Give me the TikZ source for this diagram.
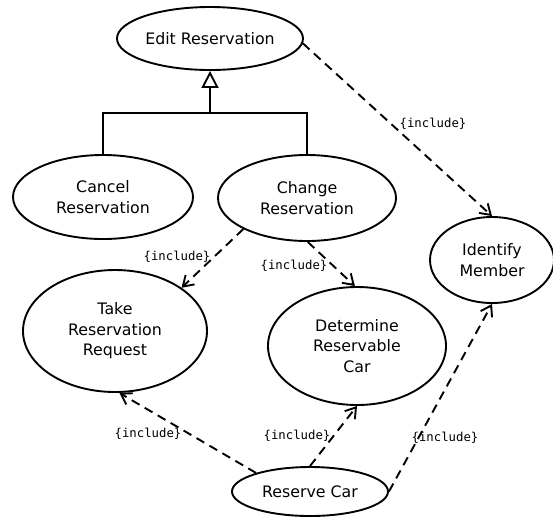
\documentclass[tikz,border=0pt]{standalone}
\usepackage{fontspec}
\setmainfont{DejaVu Sans}
\newfontfamily\monofnt{DejaVu Sans Mono}
\usetikzlibrary{shapes.geometric,arrows.meta}

\begin{document}
\begin{tikzpicture}[x=1pt,y=-1pt,
  usecase/.style={draw, ellipse, line width=1.9pt, inner sep=0pt, align=center,
    font=\fontsize{15.8}{20.5}\selectfont},
  incl/.style={draw, line width=1.9pt, dash pattern=on 9pt off 6pt,
    -{Straight Barb[length=10pt,width=13pt]}},
  incltext/.style={font=\monofnt\fontsize{12.3}{14}\selectfont, inner sep=0pt},
  gen/.style={line width=1.9pt}]
\useasboundingbox (0,0) rectangle (553,517);

% use cases
\node[usecase, minimum width=186pt, minimum height=63pt] (edit) at (210,38.5) {Edit Reservation};
\node[usecase, minimum width=180pt, minimum height=84pt] (cancel) at (103,197) {Cancel\\Reservation};
\node[usecase, minimum width=178pt, minimum height=86pt] (change) at (307,198) {Change\\Reservation};
\node[usecase, minimum width=184pt, minimum height=122pt] (take) at (115,331) {Take\\Reservation\\Request};
\node[usecase, minimum width=178pt, minimum height=118pt] (determine) at (357,346) {Determine\\Reservable\\Car};
\node[usecase, minimum width=124pt, minimum height=86pt] (identify) at (492,260) {Identify\\Member};
\node[usecase, minimum width=156pt, minimum height=49pt] (reserve) at (310,491.5) {Reserve Car};

% generalization
\coordinate (genjoin) at (210,113);
\draw[gen] (cancel.north) |- (genjoin) -| (change.north);
\draw[gen, -{Triangle[open, length=17pt, width=17pt]}] (genjoin) -- (edit.south);

% include relations
\draw[incl] (edit.-3) -- (identify.north);
\node[incltext] (l1) at (433,124) {\{include\}};

\draw[incl] (change.206) -- (take.33);
\node[incltext] (l2) at (177,257) {\{include\}};

\draw[incl] (change.-89) -- (determine.92);
\node[incltext] (l3) at (294,266) {\{include\}};

\draw[incl] (reserve.161) -- (take.-86);
\node[incltext] (l4) at (148,434) {\{include\}};

\draw[incl] (reserve.north) -- (determine.south);
\node[incltext] (l5) at (297,436) {\{include\}};

\draw[incl] (reserve.east) -- (identify.south);
\node[incltext] (l6) at (445,438) {\{include\}};
\end{tikzpicture}
\end{document}
